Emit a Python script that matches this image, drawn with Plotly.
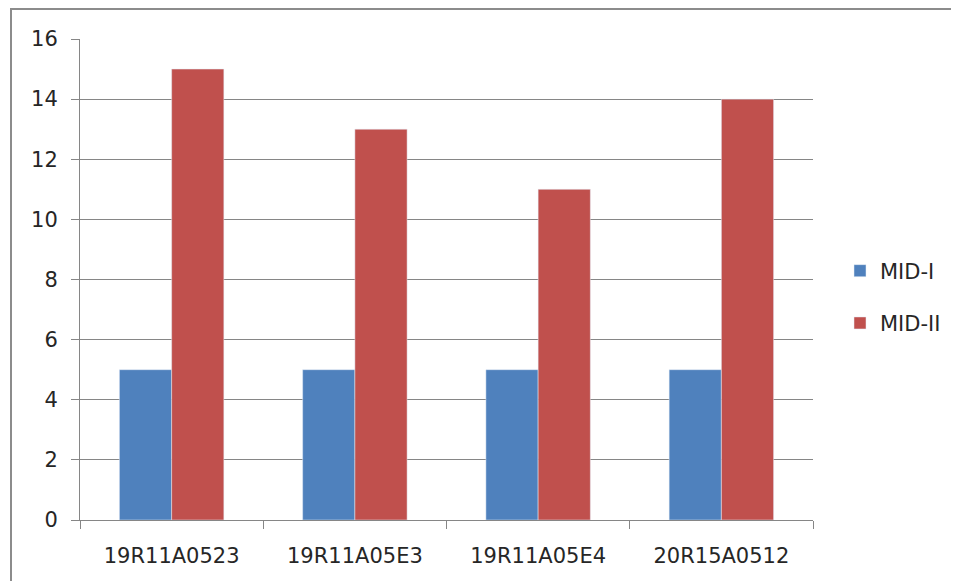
import plotly.graph_objects as go

categories = ["19R11A0523", "19R11A05E3", "19R11A05E4", "20R15A0512"]
mid1 = [5, 5, 5, 5]
mid2 = [15, 13, 11, 14]
y_ticks = [0, 2, 4, 6, 8, 10, 12, 14, 16]

OFF = 8  # page body margin
W, H = 959 - OFF, 581 - OFF
L, R, T, B = 80 - OFF, 813 - OFF, 39 - OFF, 520 - OFF

fig = go.Figure()
fig.add_trace(go.Bar(x=categories, y=mid1, name="MID-I", marker_color="#4F81BD",
                     legendgroup="a"))
fig.add_trace(go.Bar(x=categories, y=mid2, name="MID-II", marker_color="#C0504D",
                     legendgroup="b"))

pw = R - L
ph = B - T
fig.add_shape(type="rect", xref="paper", yref="paper",
              x0=(11 - OFF - L) / pw, x1=(W + 20 - L) / pw,
              y0=-(H + 20 - B) / ph, y1=1 + (T - (9 - OFF)) / ph,
              line=dict(color="#8C8C8C", width=2), layer="below")

font = dict(family="DejaVu Sans, sans-serif", size=21, color="#262626")
fig.update_layout(
    width=W, height=H,
    margin=dict(l=L, r=W - R, t=T, b=H - B),
    paper_bgcolor="white", plot_bgcolor="white",
    barmode="group", bargap=0.43, bargroupgap=0,
    font=font,
    showlegend=True,
    legend=dict(x=(840 - 80) / pw, y=(520 - 297) / ph, xanchor="left", yanchor="middle",
                traceorder="grouped", tracegroupgap=22, font=font,
                bgcolor="rgba(0,0,0,0)"),
    xaxis=dict(showline=True, linecolor="#868686", linewidth=1, ticks="outside",
               tickson="boundaries", ticklen=8, tickcolor="#868686", showgrid=False,
               tickfont=font, ticklabelstandoff=17),
    yaxis=dict(range=[0, 16], tickvals=y_ticks, showline=True, linecolor="#868686",
               linewidth=1, ticks="outside", ticklen=8, tickcolor="#868686",
               showgrid=True, gridcolor="#868686", gridwidth=1, zeroline=False,
               tickfont=font, ticklabelstandoff=9),
)
fig.write_html("out.html")
